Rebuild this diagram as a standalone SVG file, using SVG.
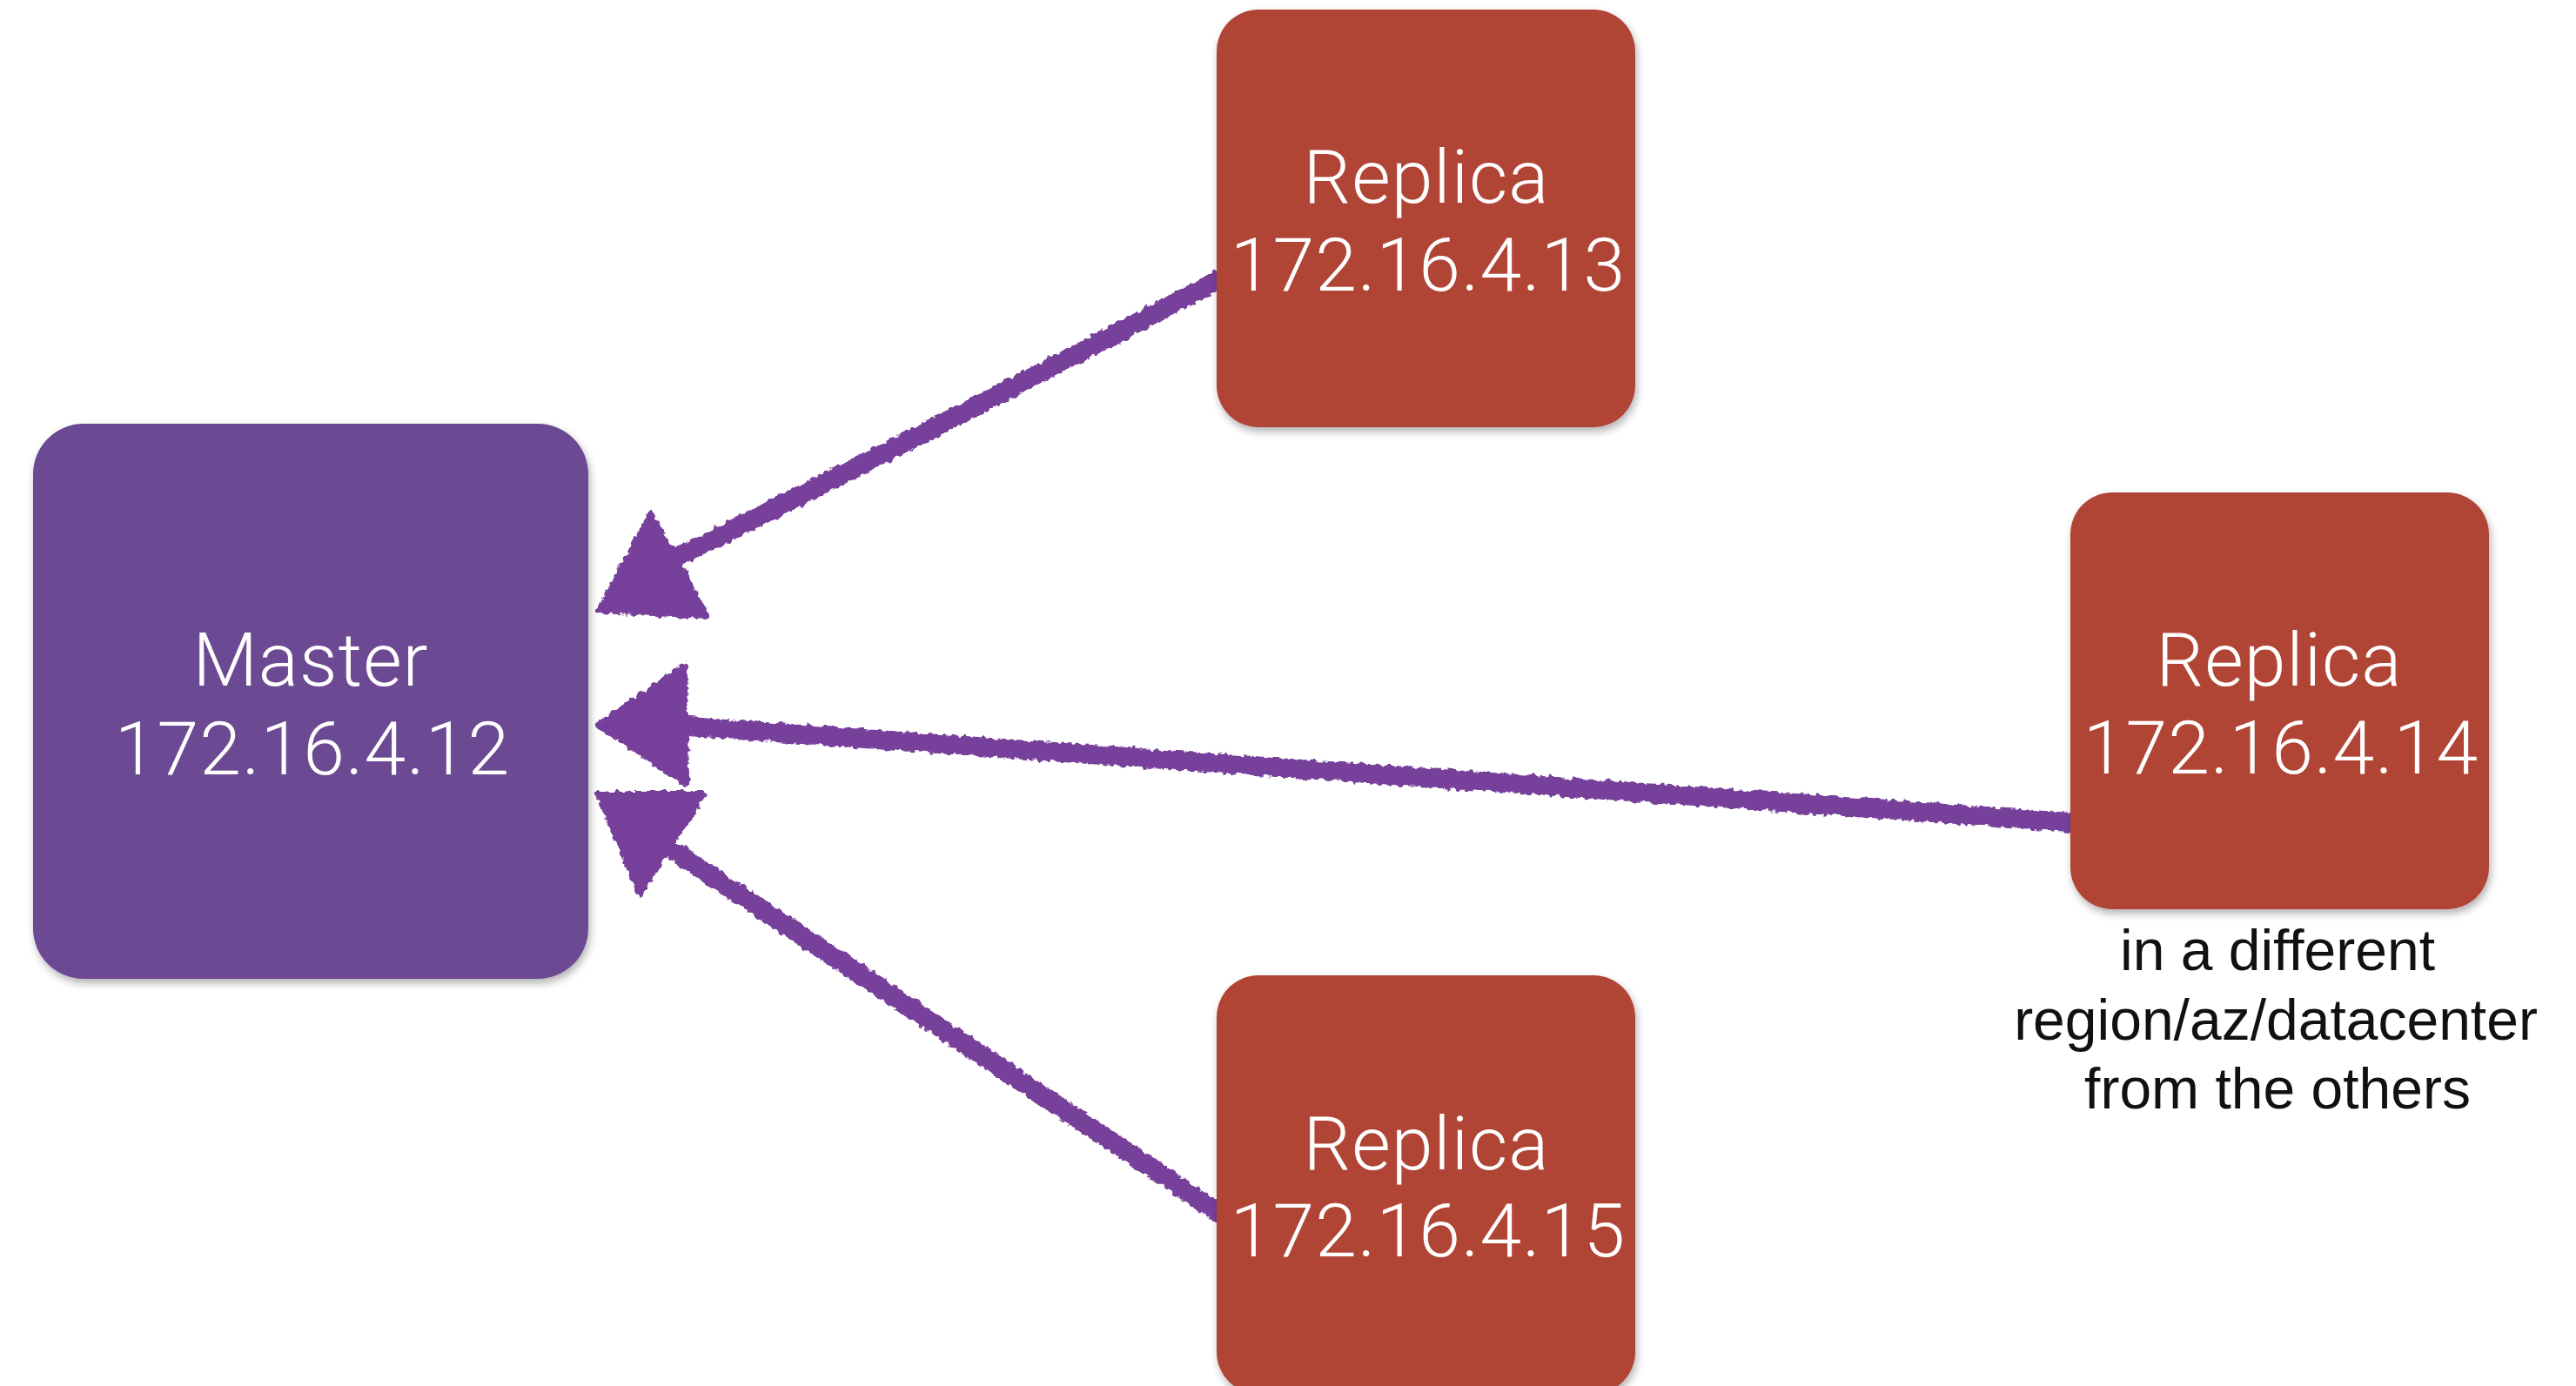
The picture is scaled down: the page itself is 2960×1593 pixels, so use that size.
<svg xmlns="http://www.w3.org/2000/svg" width="2960" height="1593" viewBox="0 0 2960 1593">
<style>
  .master { fill: #6c4a93; }
  .replica { fill: #b04535; }
  .lbl { font-family: Roboto, "Liberation Sans", Arial, sans-serif; font-weight: 300; font-size: 86px; letter-spacing: 1px; fill: #ffffff; text-anchor: middle; }
  .note { font-family: "Liberation Sans", Arial, sans-serif; font-size: 66px; fill: #111111; text-anchor: middle; }
  .shaft { fill: none; stroke: #773f9b; stroke-width: 22; stroke-linecap: round; }
  .head { fill: #773f9b; stroke: #773f9b; stroke-width: 6; stroke-linejoin: round; }
</style>
<defs>
  <filter id="shadow" x="-10%" y="-10%" width="125%" height="125%">
    <feDropShadow dx="2" dy="5" stdDeviation="5" flood-color="#000000" flood-opacity="0.3"/>
  </filter>
  <filter id="rough" x="-5%" y="-10%" width="110%" height="120%">
    <feTurbulence type="fractalNoise" baseFrequency="0.15" numOctaves="2" seed="5" result="n"/>
    <feDisplacementMap in="SourceGraphic" in2="n" scale="8" xChannelSelector="R" yChannelSelector="G"/>
  </filter>
</defs>
<rect width="2960" height="1593" fill="#ffffff"/>

<g id="connectors" filter="url(#rough)">
  <path class="shaft" d="M1400,322 Q1080,490 783,638" stroke-width="21"/>
  <polygon class="head" points="748,590 688,702 813,708"/>
  <path class="shaft" d="M2380,945 L790,835" stroke-width="24"/>
  <polygon class="head" points="687,833 787,765 789,902"/>
  <path class="shaft" d="M1398,1392 L777,980" stroke-width="22"/>
  <polygon class="head" points="687,912 809,912 735,1028"/>
</g>

<g id="master">
  <rect class="master" x="38" y="487" width="638" height="638" rx="58" filter="url(#shadow)"/>
  <text class="lbl" x="357" y="788">Master</text>
  <text class="lbl" x="359" y="890">172.16.4.12</text>
</g>

<g id="replica13">
  <rect class="replica" x="1398" y="11" width="481" height="480" rx="48" filter="url(#shadow)"/>
  <text class="lbl" x="1639" y="233">Replica</text>
  <text class="lbl" x="1641" y="334">172.16.4.13</text>
</g>

<g id="replica14">
  <rect class="replica" x="2379" y="566" width="481" height="479" rx="48" filter="url(#shadow)"/>
  <text class="lbl" x="2619" y="788">Replica</text>
  <text class="lbl" x="2621" y="889">172.16.4.14</text>
</g>

<g id="replica15">
  <rect class="replica" x="1398" y="1121" width="481" height="481" rx="48" filter="url(#shadow)"/>
  <text class="lbl" x="1639" y="1344">Replica</text>
  <text class="lbl" x="1641" y="1444">172.16.4.15</text>
</g>

<g id="note14">
  <text class="note" x="2617" y="1115">in a different</text>
  <text class="note" x="2615" y="1195">region/az/datacenter</text>
  <text class="note" x="2617" y="1274">from the others</text>
</g>
</svg>
